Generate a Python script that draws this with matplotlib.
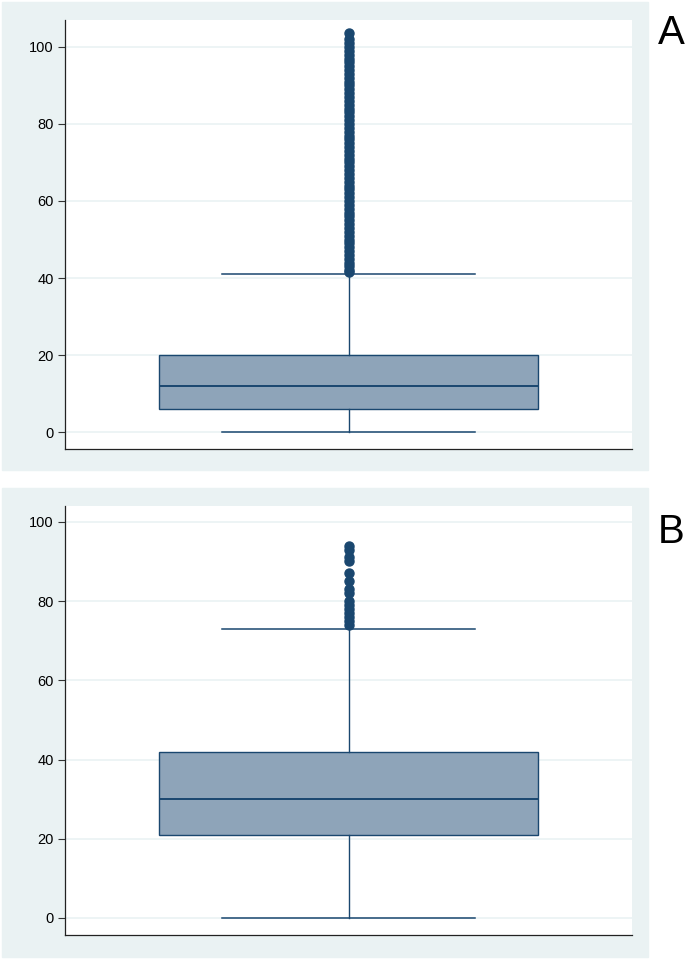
import matplotlib.pyplot as plt
from matplotlib.patches import Rectangle

plt.rcParams['font.family'] = ['Liberation Sans', 'DejaVu Sans']

# -------------------------------
# DATA
# -------------------------------
panel_labels = ["A", "B"]
y_ticks = [0, 20, 40, 60, 80, 100]

# panel A box
a_q1, a_med, a_q3 = 6, 12, 20
a_lo, a_hi = 0, 41
a_out = [41.5, 42, 43, 44, 45, 46, 47, 48, 49, 50, 51, 52, 53, 54, 55, 56, 57,
         58, 59, 60, 61, 62, 63, 64, 65, 66, 67, 68, 69, 70, 71, 72, 73, 74,
         75, 76, 77, 78, 79, 80, 81, 82, 83, 84, 85, 86, 87, 88, 89, 90, 91,
         92, 93, 94, 95, 96, 97, 98, 99, 100, 101, 102, 103.5]

# panel B box
b_q1, b_med, b_q3 = 21, 30, 42
b_lo, b_hi = 0, 73
b_out = [74, 75, 76, 77, 78, 79, 80, 82, 83, 85, 87, 90, 91, 93, 94]

# -------------------------------
# STYLE
# -------------------------------
bg = '#EAF2F3'
navy = '#1A476F'
fill = '#8EA4B9'

W, H = 693, 959
fig = plt.figure(figsize=(W / 100, H / 100), dpi=100)


def px(x0, y0, x1, y1):
    # pixel box -> figure fraction [left, bottom, width, height]
    return [x0 / W, 1 - y1 / H, (x1 - x0) / W, (y1 - y0) / H]


panels = [
    dict(bgbox=(2, 2, 648, 470), axbox=(65, 20, 632, 449), ylim=(-4.4, 107),
         stats=dict(q1=a_q1, med=a_med, q3=a_q3, whislo=a_lo, whishi=a_hi, fliers=a_out),
         lab_y=33),
    dict(bgbox=(2, 488, 648, 957), axbox=(65, 506, 632, 935), ylim=(-4.3, 104),
         stats=dict(q1=b_q1, med=b_med, q3=b_q3, whislo=b_lo, whishi=b_hi, fliers=b_out),
         lab_y=532),
]

for lab, p in zip(panel_labels, panels):
    r = px(*p['bgbox'])
    fig.patches.append(Rectangle(r[:2], r[2], r[3], transform=fig.transFigure,
                                 color=bg, zorder=-10))
    ax = fig.add_axes(px(*p['axbox']))
    ax.set_zorder(5)
    ax.set_facecolor('white')
    ax.bxp([p['stats']], positions=[0.5], widths=0.67, capwidths=0.446,
           patch_artist=True, showfliers=True,
           boxprops=dict(facecolor=fill, edgecolor=navy, linewidth=1),
           medianprops=dict(color=navy, linewidth=1.4),
           whiskerprops=dict(color=navy, linewidth=1),
           capprops=dict(color=navy, linewidth=1.1),
           flierprops=dict(marker='o', markersize=6.5, markerfacecolor=navy,
                           markeredgecolor=navy, linestyle='none'))
    ax.set_xlim(0, 1)
    ax.set_ylim(*p['ylim'])
    ax.set_yticks(y_ticks)
    ax.set_xticks([])
    ax.tick_params(axis='y', direction='out', length=5, width=0.8,
                   color='#333333', labelsize=10.5, pad=3)
    ax.grid(axis='y', color=bg, linewidth=1.2)
    ax.set_axisbelow(True)
    for s in ['top', 'right']:
        ax.spines[s].set_visible(False)
    for s in ['left', 'bottom']:
        ax.spines[s].set_color('#222222')
        ax.spines[s].set_linewidth(0.9)
    fig.text(671 / W, 1 - p['lab_y'] / H, lab, fontsize=29, ha='center', va='center')

fig.savefig('out.png', dpi=100, facecolor='white')
